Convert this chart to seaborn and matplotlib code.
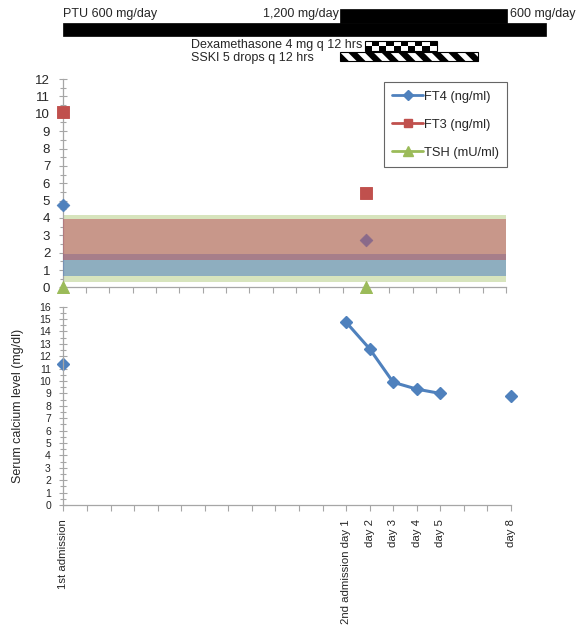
#!/usr/bin/env python3
# -*- coding: utf-8 -*-
"""
Thyroid tests and serum calcium over two admissions, with treatment timeline
"""

#%% Import modules

import numpy as np
import pandas as pd
import seaborn as sns
import matplotlib.pyplot as plt
from matplotlib.lines import Line2D

#%% Data

days = ["1st admission"] + [""] * 11 + ["2nd admission day 1", "day 2", "day 3",
                                       "day 4", "day 5", "", "", "day 8"]
thyroid_pos = [0, 13]
ft4 = [4.74, 2.73]
ft3 = [10.1, 5.45]
tsh = [0.02, 0.02]
calcium = [11.4] + [np.nan] * 11 + [14.75, 12.6, 9.9, 9.35, 9.0, np.nan, np.nan, 8.8]

# normal ranges shown as shaded bands (low, high)
tsh_range = (0.3, 4.15)
ft4_range = (0.65, 1.9)
ft3_range = (1.6, 3.95)

# treatment timeline, in the same day-slot units as the charts
ptu_doses = ["PTU 600 mg/day", "1,200 mg/day", "600 mg/day"]
ptu_edges = [0, 11.75, 18.85, 20.5]
dexa_span = (12.8, 15.85)
sski_span = (11.75, 17.6)

blue, red, green = '#4F81BD', '#C0504D', '#9BBB59'
grey = '#A6A6A6'

#%% Figure

sns.set_style('ticks')
plt.rcParams['font.family'] = ['Liberation Sans', 'DejaVu Sans']
plt.rcParams['hatch.linewidth'] = 4.5

fig = plt.figure(figsize=(5.78, 6.30), dpi=100)
W, H = 578, 630
ax_t = fig.add_axes([63.4 / W, 1 - 65 / H, 447.6 / W, 65 / H])
ax1 = fig.add_axes([62.7 / W, 1 - 287.5 / H, 443.3 / W, 208.5 / H])
ax2 = fig.add_axes([63.4 / W, 1 - 505 / H, 447.6 / W, 198.3 / H])

#%% Timeline on top

ax_t.set_xlim(0, len(days) - 1)
ax_t.set_ylim(65, 0)
ax_t.axis('off')
ax_t.barh(29.3, ptu_edges[-1] - ptu_edges[0], left=ptu_edges[0], height=13.4,
          color='black', edgecolor='black', linewidth=0.5, clip_on=False)
ax_t.barh(15.9, ptu_edges[2] - ptu_edges[1], left=ptu_edges[1], height=13.6,
          color='black', edgecolor='black', linewidth=0.5, clip_on=False)
ax_t.text(ptu_edges[0], 14, ptu_doses[0], fontsize=9, va='center', ha='left')
ax_t.text(ptu_edges[1] - 0.05, 14, ptu_doses[1], fontsize=9, va='center', ha='right')
ax_t.text(ptu_edges[2] + 0.1, 14, ptu_doses[2], fontsize=9, va='center', ha='left',
          clip_on=False)

# dexamethasone: two-row checker bar
n_cells = 10
cell_edges = np.linspace(dexa_span[0], dexa_span[1], n_cells + 1)
for i in range(n_cells):
    for row, yc in enumerate([43.0, 48.0]):
        fill = 'black' if (i + row) % 2 else 'white'
        ax_t.barh(yc, cell_edges[i + 1] - cell_edges[i], left=cell_edges[i], height=5,
                  color=fill, edgecolor='none', linewidth=0, clip_on=False)
ax_t.barh(45.5, dexa_span[1] - dexa_span[0], left=dexa_span[0], height=10,
          facecolor='none', edgecolor='black', linewidth=0.8, clip_on=False)
ax_t.text(5.42, 45.0, "Dexamethasone 4 mg q 12 hrs", fontsize=9, va='center', ha='left')

# SSKI: diagonal hatched bar
ax_t.barh(56.5, sski_span[1] - sski_span[0], left=sski_span[0], height=9,
          facecolor='white', edgecolor='black', hatch='\\\\', linewidth=0.8, clip_on=False)
ax_t.text(5.42, 57.5, "SSKI 5 drops q 12 hrs", fontsize=9, va='center', ha='left')

#%% Thyroid function chart

x_all = np.arange(len(days))
ax1.fill_between(x_all, *tsh_range, color='#d7e4bd', lw=0, zorder=1)
ax1.fill_between(x_all, *ft4_range, color='#5282c2', alpha=0.55, lw=0, zorder=4)
ax1.fill_between(x_all, *ft3_range, color='#bc5860', alpha=0.55, lw=0, zorder=4)

df_thy = pd.DataFrame({'pos': thyroid_pos, 'ft4': ft4, 'ft3': ft3, 'tsh': tsh})
sns.scatterplot(data=df_thy, x='pos', y='ft4', marker='D', s=42, color=blue,
                edgecolor=blue, ax=ax1, zorder=3, clip_on=False)
sns.scatterplot(data=df_thy, x='pos', y='ft3', marker='s', s=65, color=red,
                edgecolor=red, ax=ax1, zorder=3, clip_on=False)
sns.scatterplot(data=df_thy, x='pos', y='tsh', marker='^', s=75, color=green,
                edgecolor=green, ax=ax1, zorder=5, clip_on=False)

ax1.set_xlim(0, len(days) - 1)
ax1.set_ylim(0, 12)
ax1.set_yticks(range(0, 13))
ax1.set_yticks(np.arange(0, 12.5, 0.5), minor=True)
ax1.set_xticks(x_all)
ax1.set_xticklabels([])
ax1.set_xlabel('')
ax1.set_ylabel('')
ax1.tick_params(axis='y', which='major', left=True, direction='inout', length=6, width=0.8,
                color=grey, labelsize=9.5, pad=6)
ax1.tick_params(axis='y', which='minor', left=True, direction='inout', length=4, width=0.8,
                color=grey)
ax1.tick_params(axis='x', bottom=True, direction='out', length=4, width=0.8, color=grey)
sns.despine(ax=ax1)
for s in ['left', 'bottom']:
    ax1.spines[s].set_color(grey)
    ax1.spines[s].set_linewidth(0.9)

handles = [Line2D([], [], color=blue, lw=2, marker='D', ms=5),
           Line2D([], [], color=red, lw=2, marker='s', ms=6),
           Line2D([], [], color=green, lw=2, marker='^', ms=7)]
leg = ax1.legend(handles, ["FT4 (ng/ml)", "FT3 (ng/ml)", "TSH (mU/ml)"],
                 loc='upper right', bbox_to_anchor=(1.003, 0.985), borderaxespad=0,
                 fontsize=9.3, frameon=True, fancybox=False, handlelength=2.4,
                 handletextpad=0.05, labelspacing=1.25, borderpad=0.65)
leg.get_frame().set_edgecolor('#404040')
leg.get_frame().set_linewidth(0.8)

#%% Serum calcium chart

ax2.plot(x_all, calcium, color=blue, lw=2.2, marker='D', ms=6.5, clip_on=False)
ax2.set_xlim(0, len(days) - 1)
ax2.set_ylim(0, 16)
ax2.set_yticks(range(0, 17))
ax2.set_yticks(np.arange(0, 16.5, 0.5), minor=True)
ax2.set_xticks(x_all)
ax2.set_xticklabels(days, rotation=90, fontsize=8.2, va='top', ha='center')
ax2.set_ylabel('Serum calcium level (mg/dl)', fontsize=9)
ax2.yaxis.set_label_coords(-0.089, 0.5)
ax2.tick_params(axis='y', which='major', left=True, direction='inout', length=6, width=0.8,
                color=grey, labelsize=7.5, pad=6)
ax2.tick_params(axis='y', which='minor', left=True, direction='inout', length=4, width=0.8,
                color=grey)
ax2.tick_params(axis='x', bottom=True, direction='out', length=4, width=0.8, color=grey,
                pad=6)
sns.despine(ax=ax2)
for s in ['left', 'bottom']:
    ax2.spines[s].set_color(grey)
    ax2.spines[s].set_linewidth(0.9)

fig.savefig('out.png', dpi=100)
